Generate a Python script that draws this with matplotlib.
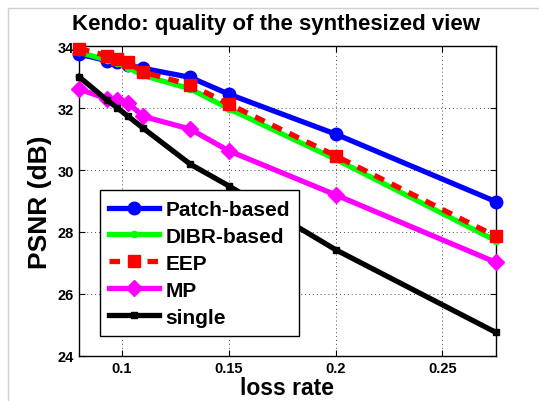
import numpy as np
import matplotlib.pyplot as plt
from matplotlib.patches import Rectangle

plt.rcParams['font.family'] = ['Liberation Sans', 'DejaVu Sans']
plt.rcParams['font.weight'] = 'bold'

# loss rates where the curves were sampled
loss_rate = [0.08, 0.093, 0.098, 0.103, 0.11, 0.132, 0.15, 0.2, 0.275]

psnr_patch = [33.74, 33.53, 33.48, 33.39, 33.28, 32.99, 32.45, 31.16, 28.98]
psnr_dibr = [33.80, 33.55, 33.45, 33.30, 33.05, 32.62, 31.98, 30.35, 27.72]
psnr_eep = [33.92, 33.69, 33.58, 33.47, 33.16, 32.75, 32.13, 30.46, 27.86]
psnr_mp = [32.61, 32.30, 32.25, 32.16, 31.73, 31.32, 30.62, 29.20, 27.02]
psnr_single = [33.01, 32.26, 32.00, 31.73, 31.35, 30.19, 29.49, 27.43, 24.76]

x_ticks = [0.1, 0.15, 0.2, 0.25]
x_tick_labels = ['0.1', '0.15', '0.2', '0.25']
y_ticks = [24, 26, 28, 30, 32, 34]

fig = plt.figure(figsize = (5.39, 4.02), dpi = 100)
fig.patches.append(Rectangle((0.015, -0.01), 1.0, 0.988, transform = fig.transFigure,
                             fill = False, edgecolor = '#d0d0d0', linewidth = 1))

ax = fig.add_axes([0.1466, 0.112, 0.7734, 0.771])

styles = [
    (psnr_patch, 'Patch-based', 'blue', '-', 'o', 9),
    (psnr_dibr, 'DIBR-based', '#00ff00', '-', 'o', 4.5),
    (psnr_eep, 'EEP', 'red', (0, (2, 1.6)), 's', 8.5),
    (psnr_mp, 'MP', 'magenta', '-', 'D', 8.5),
    (psnr_single, 'single', 'black', '-', 's', 5),
]

for values, name, color, ls, marker, ms in styles:
    ax.plot(loss_rate, values, color = color, linewidth = 3.8, linestyle = ls,
            marker = marker, markersize = ms, label = name, clip_on = False)

ax.set_xlim(0.08, 0.275)
ax.set_ylim(24, 34)
ax.set_xticks(x_ticks)
ax.set_xticklabels(x_tick_labels)
ax.set_yticks(y_ticks)

ax.grid(True, color = 'black', linestyle = (0, (1, 3)), linewidth = 0.7, alpha = 0.7)
ax.tick_params(direction = 'in', top = True, right = True, labelsize = 10.5, length = 4)
for spine in ax.spines.values():
    spine.set_linewidth(1.0)
    spine.set_zorder(0.5)

fig.text(276.5 / 539, 1 - 30 / 402, 'Kendo: quality of the synthesized view',
         fontsize = 16, fontweight = 'bold', ha = 'center', va = 'baseline')
ax.set_xlabel('loss rate', fontsize = 16.5, fontweight = 'bold', labelpad = 1)
ax.set_ylabel('PSNR (dB)', fontsize = 19, fontweight = 'bold', labelpad = 4)

leg = ax.legend(loc = 'lower left', bbox_to_anchor = (0.1855, 0.162),
                bbox_transform = fig.transFigure, fontsize = 15,
                fancybox = False, framealpha = 1, edgecolor = 'black',
                handlelength = 2.4, borderpad = 0.45, labelspacing = 0.38,
                handletextpad = 0.3, borderaxespad = 0)
leg.get_frame().set_linewidth(1.0)

fig.savefig('out.png', dpi = 100)
